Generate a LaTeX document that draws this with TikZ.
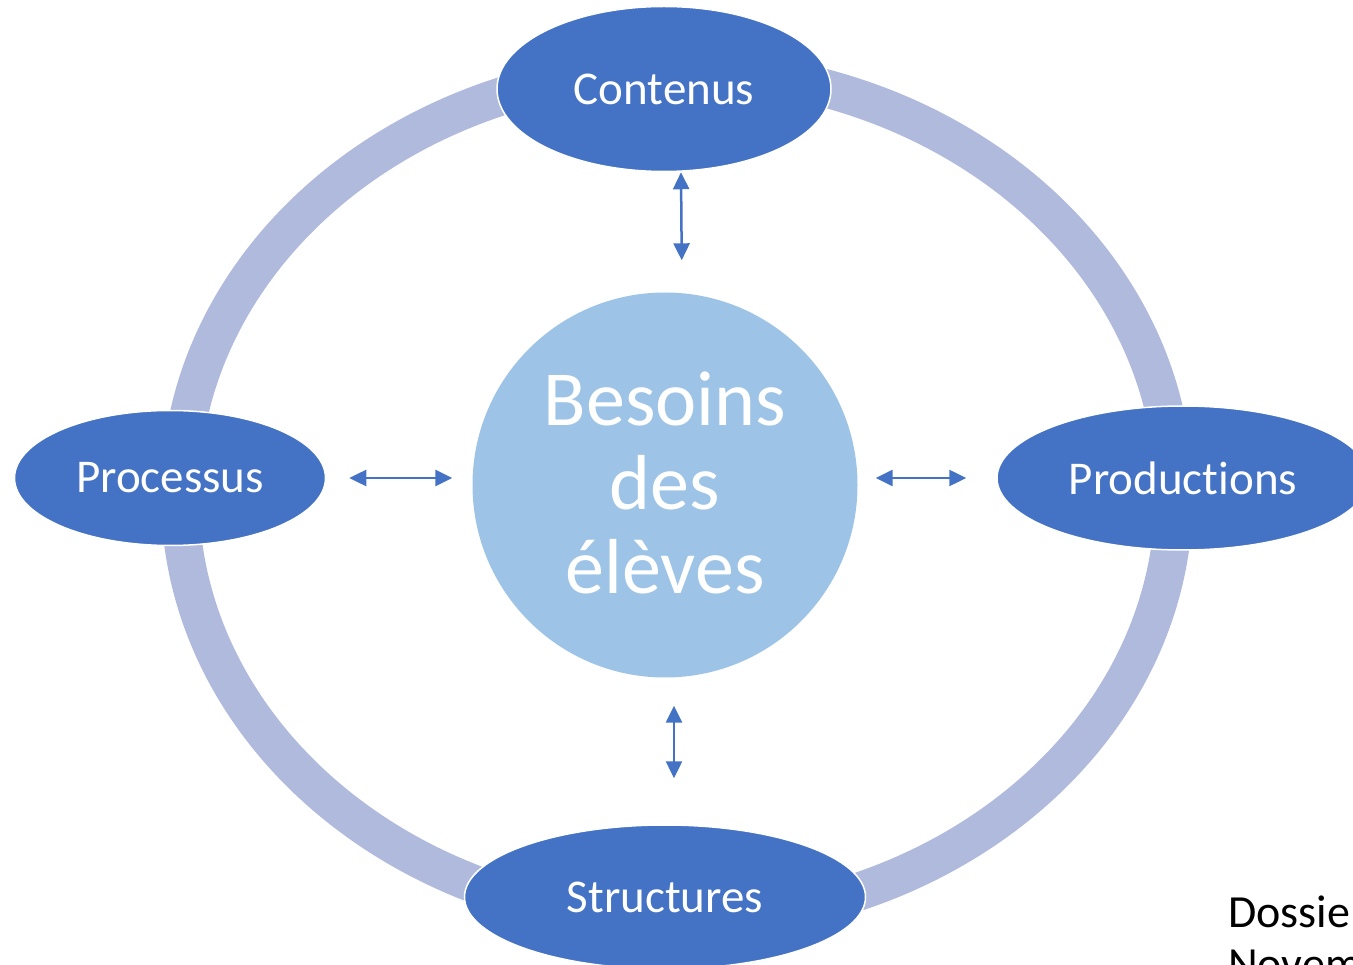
\documentclass[tikz,border=0pt]{standalone}
\usepackage{fontspec}
\setmainfont{Carlito}[Ligatures={NoCommon,NoContextual}]
\usetikzlibrary{shapes.geometric, arrows.meta}
\definecolor{topicblue}{HTML}{4472C4}
\definecolor{needblue}{HTML}{9DC3E6}
\definecolor{ringblue}{HTML}{B0BADD}
\tikzset{%
  topic/.style={ellipse, draw=white, line width=1.5pt, fill=topicblue, text=white, inner sep=0pt, font=\fontsize{47}{56}\selectfont},
  need/.style={circle, fill=needblue, text=white, inner sep=0pt, minimum size=385pt, align=center, font=\fontsize{78}{84}\selectfont},
  ring/.style={draw=ringblue, line width=38pt},
  dline/.style={draw=topicblue, line width=2.5pt, {Triangle[length=17pt,width=16pt]}-{Triangle[length=17pt,width=16pt]}},
  note/.style={align=left, inner sep=0pt, font=\fontsize{46}{52}\selectfont}}

\begin{document}
\begin{tikzpicture}[x=1pt, y=-1pt]
  \useasboundingbox (0,0) rectangle (1353,965);
  % the cycle ring sits behind the four topics
  \draw[ring] (677,495) ellipse [x radius=497, y radius=426];
  \node[need] (besoins) at (665,485) {\raisebox{4pt}{Besoins}\\\raisebox{4pt}{des}\\\raisebox{4pt}{élèves}};
  \node[topic, minimum width=334pt, minimum height=165pt] (contenus) at (664,89) {Contenus};
  \node[topic, minimum width=311pt, minimum height=135pt] (processus) at (170,478) {Processus};
  \node[topic, minimum width=372pt, minimum height=144pt] (productions) at (1183,478) {Product\kern0pt ions};
  \node[topic, minimum width=401pt, minimum height=144pt] (structures) at (665,897) {Structures};
  \draw[dline, shorten >=32pt] ([xshift=17pt]contenus.south) -- ([xshift=17pt]besoins.north);
  \draw[dline, shorten <=23pt, shorten >=20pt] (processus.east) -- (processus.east -| besoins.west);
  \draw[dline, shorten <=18pt, shorten >=30pt] (productions.west -| besoins.east) -- (productions.west);
  \draw[dline, shorten <=28pt, shorten >=46pt] ([xshift=9pt]besoins.south) -- ([xshift=9pt]structures.north);
  \node[note, anchor=north west] (dossier) at (1228,896) {Dossie\\Novem};
\end{tikzpicture}
\end{document}
